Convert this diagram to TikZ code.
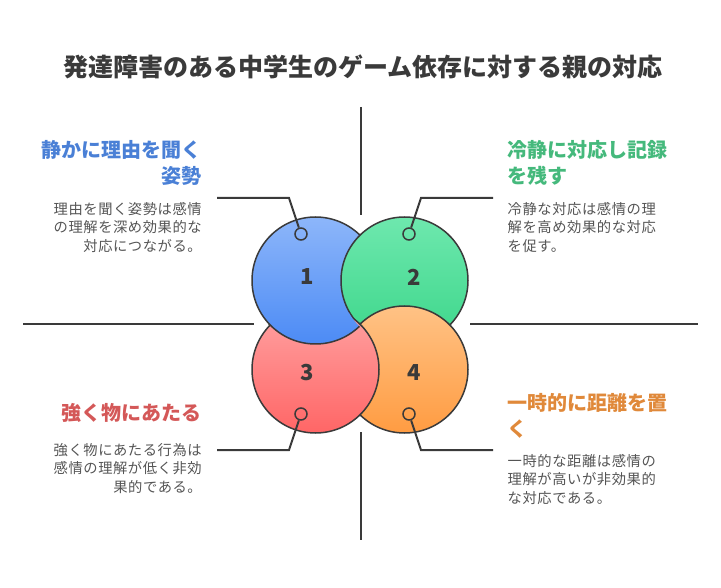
\documentclass[tikz,border=0pt]{standalone}
\usepackage{fontspec}
\setmainfont{Noto Sans CJK JP}
\newfontfamily\bodyfont[LetterSpace=4]{Noto Sans CJK JP}
\usepackage{tikz}
\usetikzlibrary{shapes,arrows.meta}
\definecolor{ink}{HTML}{3A3A3A}
\definecolor{bodygray}{HTML}{555555}
\definecolor{blueA}{HTML}{8DB6FA}\definecolor{blueB}{HTML}{4C8BF5}
\definecolor{greenA}{HTML}{6EE8AE}\definecolor{greenB}{HTML}{3CD68A}
\definecolor{redA}{HTML}{FFA3A3}\definecolor{redB}{HTML}{FF6666}
\definecolor{orangeA}{HTML}{FFC285}\definecolor{orangeB}{HTML}{FF9C42}
\definecolor{blueT}{HTML}{4A80D6}
\definecolor{greenT}{HTML}{45B97C}
\definecolor{redT}{HTML}{D45858}
\definecolor{orangeT}{HTML}{E0893A}
\newcommand{\bubble}{\node[circle,draw=ink,line width=1.5pt,minimum size=127pt,inner sep=0pt]}
\newcommand{\pin}{\node[circle,draw=ink,line width=1.5pt,minimum size=12pt,inner sep=0pt]}
\newcommand{\numnode}{\node[text=ink,font=\fontsize{22}{26}\selectfont\bfseries]}
\newcommand{\headnode}{\node[inner sep=0pt,font=\fontsize{20}{26}\selectfont\bfseries]}
\newcommand{\bodynode}{\node[inner sep=0pt,text=bodygray,font=\bodyfont\fontsize{14.3}{18.4}\selectfont]}

\begin{document}
\begin{tikzpicture}[x=1pt,y=-1pt,
    axis/.style={draw=ink,line width=2pt},
    lead/.style={draw=ink,line width=2pt}]
  \useasboundingbox (0,0) rectangle (721,588);
  \node[text=ink,font=\fontsize{25}{30}\selectfont\bfseries] (title) at (363,67) {発達障害のある中学生のゲーム依存に対する親の対応};
  % axes
  \coordinate (vt1) at (361,107); \coordinate (vt2) at (361,215);
  \coordinate (vb1) at (361,432); \coordinate (vb2) at (361,540);
  \coordinate (hl1) at (23,324); \coordinate (hl2) at (254,324);
  \coordinate (hr1) at (470,324); \coordinate (hr2) at (698,324);
  \draw[axis] (vt1) -- (vt2);
  \draw[axis] (vb1) -- (vb2);
  \draw[axis] (hl1) -- (hl2);
  \draw[axis] (hr1) -- (hr2);
  % circles
  \bubble[top color=blueA,bottom color=blueB] (c1) at (315.5,280.5) {};
  \bubble[top color=greenA,bottom color=greenB] (c2) at (404.5,280.5) {};
  \bubble[top color=orangeA,bottom color=orangeB] (c4) at (404.5,369.5) {};
  \bubble[top color=redA,bottom color=redB] (c3) at (315.5,369.5) {};
  \begin{scope}[even odd rule]
    \clip (c3.center) circle[radius=65.5pt];
    \clip (0,0) rectangle (721,588) (c2.center) circle[radius=64.3pt];
    \path[top color=blueA,bottom color=blueB,draw=ink,line width=1.5pt] (c1.center) circle[radius=63.5pt];
  \end{scope}
  \numnode (n1) at (307,277) {1};
  \numnode (n2) at (414,277) {2};
  \numnode (n3) at (307,373) {3};
  \numnode (n4) at (414,373) {4};
  % leaders
  \pin (p1) at (301,234) {};
  \pin (p2) at (409,234) {};
  \pin (p3) at (301,414) {};
  \pin (p4) at (409,414) {};
  \coordinate (k1) at (289,198); \coordinate (t1) at (217,198);
  \coordinate (k2) at (421,198); \coordinate (t2) at (493,198);
  \coordinate (k3) at (289,450); \coordinate (t3) at (217,450);
  \coordinate (k4) at (421,450); \coordinate (t4) at (493,450);
  \draw[lead] (p1) -- (k1) -- (t1);
  \draw[lead] (p2) -- (k2) -- (t2);
  \draw[lead] (p3) -- (k3) -- (t3);
  \draw[lead] (p4) -- (k4) -- (t4);
  % texts
  \headnode[text=blueT,align=right,anchor=north east] (h1) at (202,140) {静かに理由を聞く\\姿勢};
  \bodynode[align=right,anchor=north east] (b1) at (202,202) {理由を聞く姿勢は感情\\の理解を深め効果的な\\対応につながる。};
  \headnode[text=greenT,align=left,anchor=north west] (h2) at (507.5,140) {冷静に対応し記録\\を残す};
  \bodynode[align=left,anchor=north west] (b2) at (507.5,202) {冷静な対応は感情の理\\解を高め効果的な対応\\を促す。};
  \headnode[text=redT,align=right,anchor=north east] (h3) at (202,403) {強く物にあたる};
  \bodynode[align=right,anchor=north east] (b3) at (202,443) {強く物にあたる行為は\\感情の理解が低く非効\\果的である。};
  \headnode[text=orangeT,align=left,anchor=north west] (h4) at (507.5,393) {一時的に距離を置\\く};
  \bodynode[align=left,anchor=north west] (b4) at (507.5,454) {一時的な距離は感情の\\理解が高いが非効果的\\な対応である。};
\end{tikzpicture}
\end{document}
